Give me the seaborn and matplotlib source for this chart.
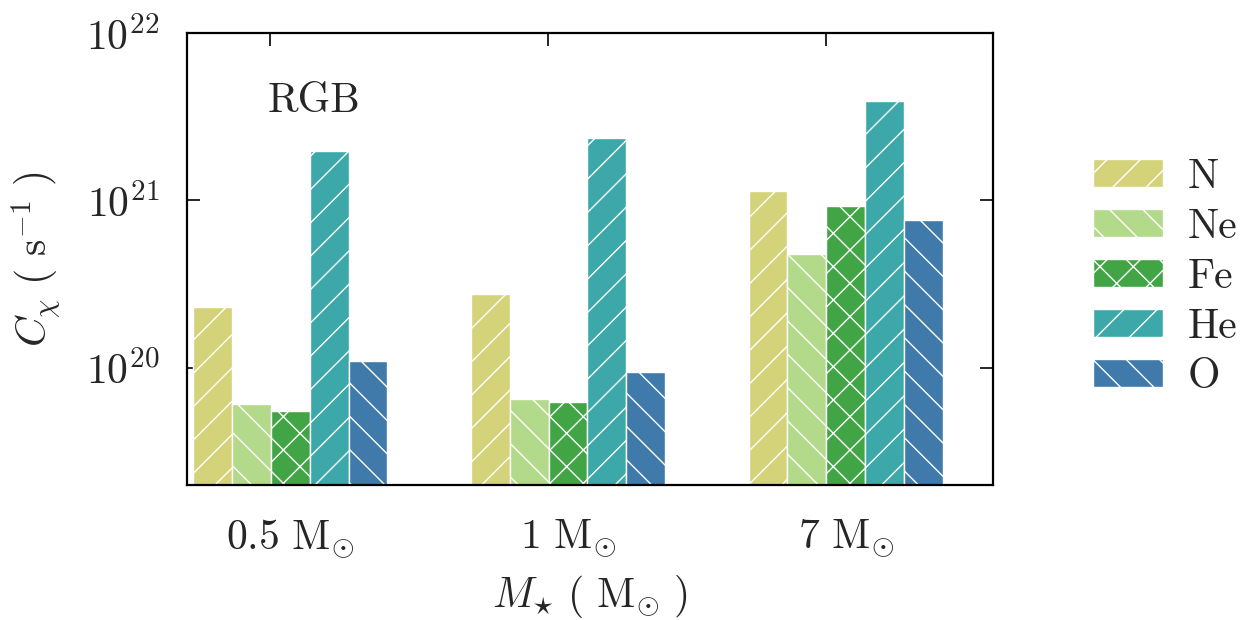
import matplotlib
matplotlib.use("Agg")
import matplotlib.pyplot as plt
import seaborn as sns
import pandas as pd
import numpy as np
from matplotlib.patches import Patch
from matplotlib.ticker import FixedLocator, NullFormatter, FixedFormatter

# ---- data ----
masses = [r"$0.5\ \mathrm{M}_{\odot}$", r"$1\ \mathrm{M}_{\odot}$", r"$7\ \mathrm{M}_{\odot}$"]
elements = ["N", "Ne", "Fe", "He", "O"]
N_vals = [2.3e20, 2.75e20, 1.14e21]
Ne_vals = [6.1e19, 6.5e19, 4.8e20]
Fe_vals = [5.5e19, 6.3e19, 9.3e20]
He_vals = [1.98e21, 2.35e21, 3.95e21]
O_vals = [1.1e20, 9.4e19, 7.6e20]
colors = ["#d4d37a", "#b3d98a", "#41a545", "#3ca8a9", "#3f7aab"]
hatches = ["//", "\\\\", "xx", "//", "\\\\"]

series = {"N": N_vals, "Ne": Ne_vals, "Fe": Fe_vals, "He": He_vals, "O": O_vals}
rows = []
for el in elements:
    for m, v in zip(masses, series[el]):
        rows.append({"mass": m, "element": el, "C": v})
df = pd.DataFrame(rows)

sns.set_style("ticks")
plt.rcParams["font.family"] = "serif"
plt.rcParams["font.serif"] = ["cmr10"]
plt.rcParams["mathtext.fontset"] = "cm"
plt.rcParams["axes.formatter.use_mathtext"] = True
plt.rcParams["axes.unicode_minus"] = False
plt.rcParams["hatch.color"] = "white"
plt.rcParams["hatch.linewidth"] = 0.5

FS = 15
fig = plt.figure(figsize=(6.255, 3.1), dpi=200)
ax = fig.add_axes([0.1495, 0.2177, 0.6443, 0.7291])

sns.barplot(data=df, x="mass", y="C", hue="element", order=masses, hue_order=elements,
            palette=colors, width=0.7, edgecolor="white", linewidth=0.5, saturation=1,
            legend=False, ax=ax)

for cont, h in zip(ax.containers, hatches):
    for p in cont:
        p.set_hatch(h)

ax.set_yscale("log")
ax.set_ylim(2.0e19, 1e22)
ax.set_xlim(-0.3715, 2.530)

# ticks
ax.xaxis.set_major_locator(FixedLocator([i - 0.073 for i in range(3)]))
ax.xaxis.set_major_formatter(NullFormatter())
ax.xaxis.set_minor_locator(FixedLocator(list(range(3))))
ax.xaxis.set_minor_formatter(FixedFormatter(masses))
ax.tick_params(axis="x", which="minor", length=0, labelsize=FS, pad=12)
ax.tick_params(axis="x", which="major", direction="in", length=4.7, width=0.7, top=True, bottom=True)
ax.yaxis.set_minor_locator(FixedLocator([]))
ax.tick_params(axis="y", which="major", direction="in", length=4.7, width=0.7, left=True, right=True,
               labelsize=FS, pad=10)
for s in ax.spines.values():
    s.set_linewidth(0.8)
    s.set_color("black")

ax.set_xlabel(r"$M_{\star}\ (\ \mathrm{M}_{\odot}\ )$", fontsize=FS, labelpad=4.5)
ax.set_ylabel(r"$C_{\chi}\ (\ \mathrm{s}^{-1}\ )$", fontsize=FS, labelpad=8)

ax.text(0.1, 0.825, "RGB", transform=ax.transAxes, fontsize=FS, ha="left", va="baseline")

handles = [Patch(facecolor=c, edgecolor="white", hatch=h, linewidth=0.5, label=el)
           for c, h, el in zip(colors, hatches, elements)]
ax.legend(handles=handles, loc="center left", bbox_to_anchor=(1.078, 0.46), frameon=False,
          fontsize=FS, handlelength=1.67, handleheight=0.67, handletextpad=0.6, labelspacing=0.3)

fig.savefig("out.png", dpi=200)
